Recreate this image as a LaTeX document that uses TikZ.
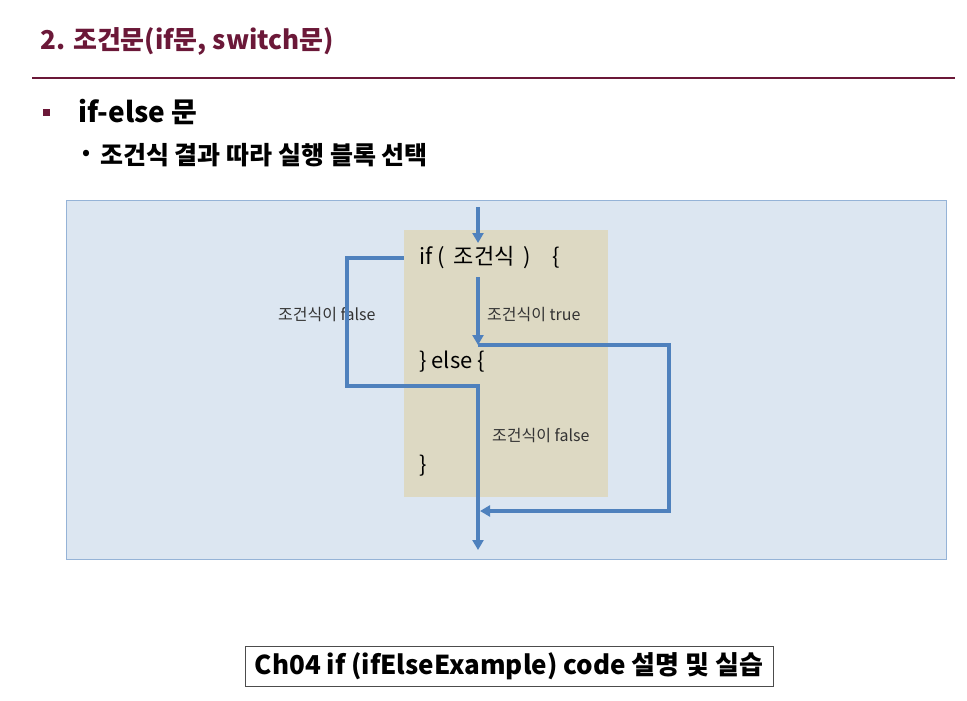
\documentclass[tikz,border=0pt]{standalone}
\usepackage{fontspec}
\setmainfont{Noto Sans CJK KR}
\usetikzlibrary{positioning}
\usetikzlibrary{calc}
\usetikzlibrary{arrows.meta}
\definecolor{titlered}{HTML}{6B1838}
\definecolor{panelblue}{HTML}{DCE6F1}
\definecolor{panelline}{HTML}{95B3D7}
\definecolor{codetan}{HTML}{DDD9C3}
\definecolor{flowblue}{HTML}{4F81BD}
\tikzset{flow/.style={draw=flowblue,
                      line width=3.2pt}}
\tikzset{flow arrow/.style={flow,-{Triangle[length=10pt,width=11pt]}}}
\tikzset{code line/.style={anchor=west,inner sep=0pt,font=\fontsize{22}{24}\selectfont}}
\tikzset{cond label/.style={anchor=west,inner sep=0pt,text=black!80,font=\fontsize{16}{18}\selectfont}}

\begin{document}
\begin{tikzpicture}
  [
    x=1pt,y=-1pt,
    heading/.style={anchor=west,inner sep=0pt,font=\bfseries\fontsize{28}{31}\selectfont},
  ]
    \useasboundingbox (0,0) rectangle (967,701);

    % title
    \node [anchor=west,inner sep=0pt,text=titlered,font=\bfseries\fontsize{26}{29}\selectfont] (title) at (40,41) {2. 조건문(if문, switch문)};
    \draw [titlered,line width=1.8pt] (32,78) -- (955,78);

    % bullets
    \node [fill=titlered,minimum size=7pt,inner sep=0pt] (square) at (46,112) {};
    \node [heading] (ifelse) at (78,112) {if-else 문};
    \node [anchor=west,inner sep=0pt,font=\bfseries\fontsize{20}{24}\selectfont] (dot) at (82,155) {•};
    \node [anchor=west,inner sep=0pt,font=\bfseries\fontsize{25}{28}\selectfont] (sub) at (100,155) {조건식 결과 따라 실행 블록 선택};

    % panels
    \node [fill=panelblue,draw=panelline,line width=1pt,minimum width=880,minimum height=359,inner sep=0pt] (panel) at (506,379.5) {};
    \node [fill=codetan,minimum width=204,minimum height=267,inner sep=0pt] (code) at (506,363.5) {};

    % code lines
    \foreach \n/\y/\t in
      {
        if/258/{if\hspace{5pt}(\hspace{9pt}조건식\hspace{9pt})\hspace{22pt}\{},
        else/362/{\} else \{},
        close/466/{\}}
      }
    {
    \node [code line] (\n) at (419,\y) {\t};
    }

    % labels
    \node [cond label] (false1) at (278,315) {조건식이 false};
    \node [cond label] (true1) at (487,315) {조건식이 true};
    \node [cond label] (false2) at (492,436) {조건식이 false};

    % flow
    \coordinate (top) at (478,207);
    \coordinate (start) at (478,243);
    \coordinate (truetop) at (478,277);
    \coordinate (split) at (478,345);
    \coordinate (right) at (669,345);
    \coordinate (join) at (480,511);
    \coordinate (lefttop) at (347,258);
    \coordinate (leftbot) at (347,386);
    \coordinate (mid) at (478,386);
    \coordinate (exit) at (478,550);

    \draw [flow arrow] (top) -- (start);
    \draw [flow arrow] (truetop) -- (split);
    \draw [flow arrow] (split) -- (right) |- (join);
    \draw [flow arrow] (code.west |- lefttop) -- (lefttop) -- (leftbot) -- (mid) -- (exit);

    % footer
    \node [draw=black!70,line width=0.8pt,minimum width=528,minimum height=40,inner sep=0pt,font=\bfseries\fontsize{26}{28}\selectfont] (footer) at (509,666) {Ch04 if (ifElseExample) code 설명 및 실습};

  \end{tikzpicture}
\end{document}
